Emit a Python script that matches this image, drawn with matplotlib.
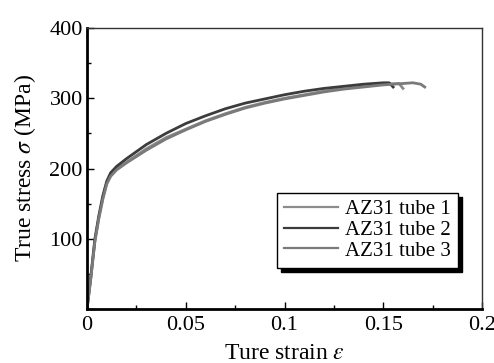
import numpy as np
import matplotlib
matplotlib.use('Agg')
import matplotlib.pyplot as plt

plt.rcParams['font.family'] = ['Liberation Serif', 'DejaVu Serif']
plt.rcParams['mathtext.fontset'] = 'stix'

# (true strain, true stress in MPa)
strain_1 = [0, 0.002, 0.004, 0.006, 0.008, 0.010, 0.012, 0.015, 0.02, 0.03, 0.04, 0.05,
            0.06, 0.07, 0.08, 0.09, 0.10, 0.11, 0.12, 0.13, 0.14, 0.15, 0.158, 0.160]
stress_1 = [0, 46, 97, 130, 158, 179, 190, 199, 209, 228, 244, 256,
            268, 278, 287, 294, 300, 305, 310, 314, 317, 320, 321, 314]

strain_2 = [0, 0.002, 0.004, 0.006, 0.008, 0.010, 0.012, 0.015, 0.02, 0.03, 0.04, 0.05,
            0.06, 0.07, 0.08, 0.09, 0.10, 0.11, 0.12, 0.13, 0.14, 0.15, 0.153, 0.155]
stress_2 = [0, 48, 100, 133, 161, 182, 194, 203, 214, 234, 250, 264,
            275, 285, 293, 299, 305, 310, 314, 317, 320, 322, 322, 316]

strain_3 = [0, 0.002, 0.004, 0.006, 0.008, 0.010, 0.012, 0.015, 0.02, 0.03, 0.04, 0.05,
            0.06, 0.07, 0.08, 0.09, 0.10, 0.11, 0.12, 0.13, 0.14, 0.15, 0.16, 0.165, 0.169, 0.171]
stress_3 = [0, 45, 96, 129, 156, 178, 189, 198, 208, 226, 242, 255,
            267, 277, 286, 293, 299, 304, 309, 313, 316, 319, 321, 322, 320, 316]

labels = ['AZ31 tube 1', 'AZ31 tube 2', 'AZ31 tube 3']
colors = ['#8c8c8c', '#3c3c3c', '#7a7a7a']

x_ticks = [0, 0.05, 0.1, 0.15, 0.2]
x_tick_labels = ['0', '0.05', '0.1', '0.15', '0.2']
x_minor = [0.025, 0.075, 0.125, 0.175]
y_ticks = [0, 100, 200, 300, 400]
y_tick_labels = ['', '100', '200', '300', '400']
y_minor = [50, 150, 250, 350]

fig = plt.figure(figsize=(4.94, 3.63), dpi=100)
ax = fig.add_axes([87 / 494, 1 - 309 / 363, 395 / 494, 281 / 363])

ax.plot(strain_1, stress_1, color=colors[0], lw=2.0, label=labels[0])
ax.plot(strain_2, stress_2, color=colors[1], lw=2.0, label=labels[1])
ax.plot(strain_3, stress_3, color=colors[2], lw=2.0, label=labels[2])

ax.set_xlim(0, 0.2)
ax.set_ylim(0, 400)
ax.set_xticks(x_ticks)
ax.set_xticklabels(x_tick_labels)
ax.set_xticks(x_minor, minor=True)
ax.set_yticks(y_ticks)
ax.set_yticklabels(y_tick_labels)
ax.set_yticks(y_minor, minor=True)

ax.tick_params(which='both', direction='in', top=False, right=False, labelsize=16, pad=3)
ax.tick_params(axis='x', pad=5)
ax.tick_params(which='major', length=5, width=1)
ax.tick_params(which='minor', length=3, width=1)

for side in ['left', 'bottom']:
    ax.spines[side].set_linewidth(2)
    ax.spines[side].set_color('black')
for side in ['top', 'right']:
    ax.spines[side].set_linewidth(1)
    ax.spines[side].set_color('#333333')

ax.set_xlabel(r'Ture strain $\varepsilon$', fontsize=17, labelpad=6)
ax.set_ylabel(r'True stress $\sigma$ (MPa)', fontsize=17, labelpad=8)

leg = ax.legend(loc='lower right', bbox_to_anchor=(0.939, 0.146), borderaxespad=0,
                fontsize=15, fancybox=False, edgecolor='black', framealpha=1,
                shadow={'color': 'black', 'alpha': 1, 'ox': 3, 'oy': -3},
                handlelength=2.6, handletextpad=0.3, labelspacing=0.05,
                borderpad=0.35)
leg.get_frame().set_linewidth(1)
for line in leg.get_lines():
    line.set_linewidth(1.6)

fig.savefig('out.png', dpi=100)
